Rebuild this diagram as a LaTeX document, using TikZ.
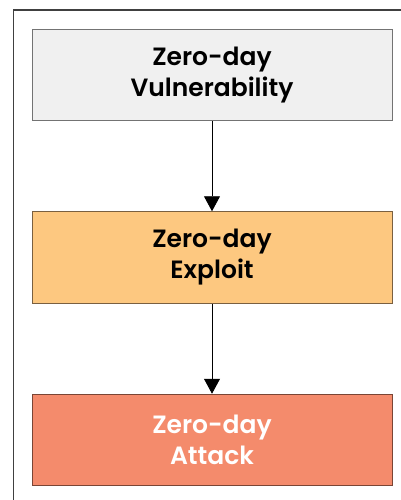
\documentclass[tikz,border=0pt]{standalone}
\usepackage{fontspec}
\newfontfamily\popsb{Poppins SemiBold}
\usetikzlibrary{arrows.meta}
\definecolor{boxgray}{HTML}{F0F0F0}
\definecolor{boxorange}{HTML}{FDC880}
\definecolor{boxred}{HTML}{F48B6C}
\definecolor{edgegray}{HTML}{737373}
\definecolor{edgebrown}{HTML}{7A6040}
\definecolor{edgered}{HTML}{7A4535}
\tikzset{
  stagebox/.style={rectangle, minimum width=360pt, minimum height=91.5pt, inner sep=0pt,
    line width=1pt, align=center, font=\popsb\fontsize{25}{31}\selectfont},
  flowarrow/.style={draw=black, line width=0.9pt, -{Triangle[length=15pt,width=16pt]}}
}
\begin{document}
\begin{tikzpicture}[x=1pt,y=-1pt]
\useasboundingbox (0,0) rectangle (401,500);
\draw[line width=1.2pt, color=black!75] (13.5,505) -- (13.5,10) -- (405,10);
\node[stagebox, fill=boxgray, draw=edgegray] (vul) at (212,74.8) {Zero-day\\Vulnerability};
\node[stagebox, fill=boxorange, draw=edgebrown] (exp) at (212,257.5) {Zero-day\\Exploit};
\node[stagebox, fill=boxred, draw=edgered, text=white] (att) at (212,440) {Zero-day\\Attack};
\draw[flowarrow] (vul) -- (exp);
\draw[flowarrow] (exp) -- (att);
\end{tikzpicture}
\end{document}
